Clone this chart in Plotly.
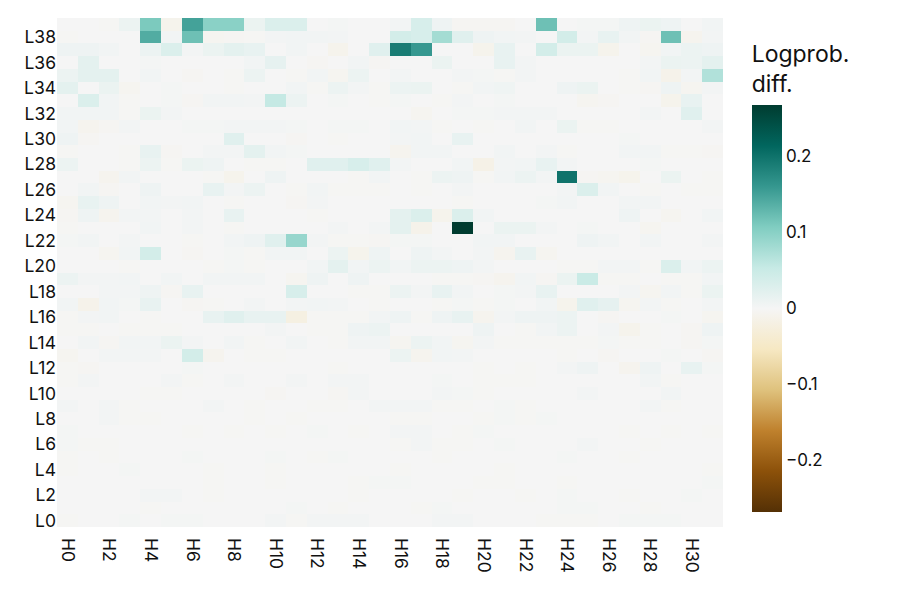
import plotly.graph_objects as go

heads = [f"H{i}" for i in range(32)]
layers = [f"L{i}" for i in range(40)]
x_tick_labels = [f"H{i}" for i in range(0, 32, 2)]
y_tick_labels = [f"L{i}" for i in range(0, 40, 2)]
cbar_tick_values = [-0.2, -0.1, 0, 0.1, 0.2]
cbar_tick_labels = ["\u22120.2", "\u22120.1", "0", "0.1", "0.2"]

L0 = [-0.002, 0, 0, 0.002, 0, 0.002, 0.002, 0, 0, 0, 0.003, -0.002, 0.003, 0.003, 0.003, 0, 0, 0, 0.003, 0.003, 0, 0, 0, -0.002, -0.002, -0.002, 0, 0.002, 0.002, 0.002, 0, 0]
L1 = [0, 0, 0, 0, -0.002, 0, 0, 0, 0, 0, 0, 0.002, 0, -0.002, 0, 0, 0, -0.002, 0.002, 0, 0, 0, 0, 0, 0.002, 0.002, 0, 0, -0.002, 0, 0, 0]
L2 = [0, 0, 0, 0, 0.003, 0.003, 0, -0.002, 0, 0, 0, 0, 0, 0, -0.002, 0, 0, 0, 0, -0.002, 0, 0, -0.002, 0, 0.002, 0, 0, -0.002, 0, 0, 0.002, 0]
L3 = [0, 0, 0, 0, 0, 0, 0, -0.002, 0, 0, -0.002, 0, 0, 0, -0.002, 0.002, 0.002, 0, 0, 0, -0.002, -0.002, 0, 0, -0.002, 0, 0, 0, 0, 0, 0, 0.002]
L4 = [-0.002, 0, 0, 0.002, 0, 0, 0, -0.002, 0, 0, -0.002, 0, 0, 0, 0, 0, -0.002, 0, 0, 0, 0, -0.002, 0, 0, 0, 0, 0, 0, 0, 0, 0, -0.002]
L5 = [-0.002, 0, -0.002, 0, 0, 0, 0.002, 0, 0, 0, 0.002, 0, -0.002, 0.002, 0, 0, 0, 0, -0.002, 0, 0, 0, 0, 0, 0.002, 0, 0, -0.002, 0, 0, 0, 0]
L6 = [0.002, -0.002, -0.002, 0, 0, 0, 0, 0, 0, 0, 0, 0, 0, 0, 0, 0, -0.002, 0.003, -0.002, -0.002, 0, 0.002, 0, 0, 0, 0.003, 0, 0, -0.002, 0, 0, 0]
L7 = [0.002, 0, 0, 0, 0, 0, -0.002, 0, -0.002, 0, -0.002, 0, 0.002, 0, -0.002, 0, 0.003, 0.003, 0, -0.002, 0.002, 0, 0, 0, 0, 0, 0, -0.002, 0, -0.002, 0, -0.002]
L8 = [0, 0, 0.003, -0.002, -0.002, 0, 0, 0, 0, -0.002, 0, -0.002, 0, 0, 0, 0, -0.002, -0.002, 0, 0, -0.002, 0.002, -0.002, 0.002, 0, 0, 0, 0, 0, 0, 0, 0]
L9 = [0.003, 0, 0.003, -0.002, 0, 0, 0, 0.003, 0, -0.002, 0, 0, -0.002, -0.002, 0, 0.003, 0.003, 0.003, -0.002, -0.002, 0, 0.002, -0.002, 0, 0, 0, 0, 0, 0.003, -0.002, 0, 0]
L10 = [0, 0, 0, 0, -0.002, -0.002, 0, 0, 0, 0, -0.003, 0, 0, -0.003, 0.004, 0, 0, 0, 0.003, 0.002, -0.002, 0, 0, 0, 0, 0.003, 0, 0, 0, 0.005, 0, 0]
L11 = [-0.002, 0.003, 0, 0, 0, 0.003, -0.002, 0, 0.003, 0, 0, 0.003, 0, 0.003, 0.003, 0, 0, 0, 0.002, 0, -0.002, -0.002, -0.002, 0, 0, 0, 0, 0, 0.005, -0.002, 0, 0]
L12 = [-0.002, -0.003, 0, 0, 0, 0, 0.002, 0, 0, 0, 0, 0, 0, -0.002, 0, 0, 0, 0, 0, 0, -0.002, 0, -0.002, 0, 0.003, 0.008, 0, -0.008, 0.008, 0, 0.015, 0.002]
L13 = [-0.005, 0, 0.003, 0.003, 0.003, 0, 0.04, -0.008, 0, -0.002, -0.002, 0, 0, 0, 0, 0, 0.01, -0.008, 0.005, 0.003, 0, 0, 0, 0, -0.002, 0, -0.003, 0, 0, 0.002, 0, -0.003]
L14 = [0, 0.005, -0.003, 0.005, 0.005, 0.012, 0.003, 0, 0.005, -0.002, 0, 0.005, 0, -0.002, 0.005, 0.005, -0.005, 0.01, 0.005, -0.005, 0.003, -0.002, -0.002, -0.002, -0.002, -0.002, 0.002, -0.002, -0.002, 0, -0.003, 0.002]
L15 = [-0.002, -0.002, 0, -0.002, -0.002, -0.002, 0, 0, 0, 0, 0.003, 0, -0.002, -0.002, 0.008, 0.01, 0, 0, 0, 0, 0.008, 0, -0.002, 0.005, 0.01, 0, 0.003, -0.01, -0.002, 0, -0.003, 0.008]
L16 = [-0.002, 0.003, 0.005, 0, -0.002, 0, 0, 0.015, 0.025, 0.015, 0.015, -0.02, -0.002, -0.002, -0.002, 0.005, 0.008, -0.002, 0.008, 0.015, -0.008, 0.003, 0.008, 0.008, 0.01, 0, -0.003, 0, 0, 0.002, 0, -0.005]
L17 = [0.005, -0.012, 0.005, 0.002, 0.015, 0, -0.003, -0.002, 0, 0.003, 0, 0.003, 0.005, 0.003, 0, -0.002, 0, 0, -0.002, 0.002, -0.002, 0.002, 0, 0.005, -0.01, 0.025, 0.018, -0.005, 0.003, -0.002, 0, 0.003]
L18 = [0, 0, 0.003, 0.003, 0.008, -0.003, 0.015, 0, 0, 0, 0, 0.035, 0, 0, -0.002, -0.002, 0.01, 0.003, 0.015, 0.005, 0, 0.002, 0.003, 0.015, 0, 0, 0, 0.003, -0.005, 0.005, -0.002, 0.012]
L19 = [0.01, 0.003, 0.003, 0.005, 0, 0.005, 0, 0.005, 0.005, 0.005, 0, -0.005, 0.008, 0, 0.008, 0, 0, 0, -0.002, -0.002, -0.003, -0.008, 0.005, -0.003, 0.012, 0.05, -0.002, -0.002, 0, -0.002, -0.002, 0.005]
L20 = [0, 0, 0, -0.002, 0, 0, 0, -0.002, 0.002, -0.002, 0, 0, 0.005, 0.02, 0.005, 0.01, 0.005, 0.01, 0.01, 0.008, 0.003, 0, 0, 0, -0.002, -0.002, 0.003, 0.003, -0.002, 0.03, 0.005, 0.01]
L21 = [0, 0, -0.005, 0.005, 0.04, 0, -0.003, 0, 0.002, -0.002, 0.005, 0.005, 0, 0.01, -0.01, 0.008, 0, 0.008, 0.003, 0, 0.003, -0.008, 0.015, -0.005, 0, 0, 0, 0, 0, 0, 0, 0]
L22 = [0.002, 0.005, 0, 0.003, 0, 0, -0.002, 0, 0.005, 0.008, 0.025, 0.09, 0.003, -0.002, -0.002, -0.003, 0.002, 0.002, 0, 0, 0.005, 0.005, 0, 0, 0, 0.008, 0.005, 0, 0.005, 0, 0, 0.003]
L23 = [-0.002, 0, 0, 0, 0.005, 0, 0.003, 0, -0.002, 0, 0, 0, 0, 0.003, 0, 0.003, 0.02, -0.012, 0, 0.27, 0, 0.012, 0.012, 0.003, 0, 0.002, 0, 0, -0.005, 0, 0, 0]
L24 = [-0.003, 0.008, -0.008, 0.003, 0.003, 0, 0.003, 0, 0.015, 0, 0, 0, -0.002, 0, 0, 0, 0.02, 0.03, -0.01, 0.03, 0.005, 0, 0, 0, 0, 0, 0, 0.008, 0, -0.005, 0, 0.005]
L25 = [-0.005, 0.015, 0.008, 0, 0.005, 0.003, 0.005, 0, -0.002, 0, 0, -0.003, 0.003, 0, 0, 0, 0, 0, 0, -0.002, 0, 0, 0, 0.002, 0.005, 0, 0, 0.005, 0.005, 0, 0, 0]
L26 = [0, 0.005, -0.003, 0, 0.008, 0, 0, 0.015, 0.003, 0.01, 0, -0.002, 0.005, -0.002, -0.002, -0.002, 0, -0.002, 0, 0.003, 0, 0, 0, 0, 0.003, 0.03, 0.005, 0, -0.002, 0, -0.002, -0.002]
L27 = [0, 0, -0.008, 0.005, 0, 0, 0, -0.002, -0.01, 0, 0.008, 0, 0, 0, -0.002, 0.005, 0, -0.002, 0.01, 0.008, -0.002, 0.005, 0.01, 0.003, 0.2, -0.003, -0.005, -0.01, 0, 0.012, 0, -0.002]
L28 = [0.01, 0, 0, -0.002, 0.01, -0.002, 0.012, 0.008, 0, -0.002, -0.002, 0, 0.025, 0.025, 0.035, 0.025, 0.003, 0, 0, 0.005, -0.015, 0.003, 0.005, 0.015, 0.003, 0, 0, 0, 0.002, 0, 0, 0]
L29 = [-0.002, 0, 0, -0.002, 0.015, -0.003, 0, 0.003, 0.003, 0.02, 0.005, 0.002, 0, 0, 0, 0, -0.008, 0.005, 0.005, 0, 0, 0.005, 0, 0.003, -0.002, 0, 0, 0.005, 0.005, -0.002, -0.002, -0.003]
L30 = [0.008, -0.003, 0, 0, 0, 0, 0, 0, 0.025, 0, 0, -0.003, 0, -0.002, 0, 0, 0.003, 0.005, 0, 0.015, 0, 0, 0, 0, 0, 0, 0, 0.002, 0, 0, 0, 0]
L31 = [0.005, -0.008, -0.003, 0.003, 0, 0, 0.002, 0.002, 0.003, 0.003, 0.003, 0.002, 0, 0.002, 0.002, 0, 0.005, 0.003, -0.002, 0, -0.002, 0, 0.005, 0, 0.012, -0.002, -0.002, 0, 0, 0, 0, 0.003]
L32 = [0.005, 0.005, 0.005, -0.002, 0.012, 0.003, 0, 0, 0, 0, 0, 0, 0, 0, 0, 0, 0, -0.005, 0, 0.002, 0.002, 0.003, 0.003, 0.003, 0, 0, 0, 0, 0.003, 0, 0.025, 0]
L33 = [0, 0.03, 0.005, -0.002, 0, 0.002, -0.003, 0.005, 0.005, 0.003, 0.055, 0.01, 0, 0.002, 0, -0.002, 0.002, 0, -0.002, 0.003, 0, 0.002, 0, 0, 0, -0.005, -0.003, 0, 0, -0.01, 0.015, 0]
L34 = [0.02, 0, 0.012, -0.005, 0, 0.002, 0, 0, -0.002, 0, 0, 0.005, -0.002, 0.01, 0.003, -0.002, 0.01, 0.012, 0, -0.002, 0.005, 0.007, 0, 0, 0.008, 0.012, 0, -0.002, -0.003, 0.008, -0.005, 0.003]
L35 = [0.01, 0.02, 0.02, 0, 0.005, 0, -0.003, 0, -0.002, 0.01, 0, -0.002, 0.005, -0.005, 0.01, 0, 0.003, 0, 0, 0.003, 0.002, -0.002, 0.003, 0, 0, 0, 0, -0.002, 0.005, -0.012, 0.003, 0.07]
L36 = [0, 0.02, 0, 0, 0.002, 0, 0, 0, 0, 0.005, 0.018, 0, -0.003, 0, 0.005, -0.003, 0, 0, 0.012, 0, 0, 0.015, 0.003, 0, 0, 0, 0, 0, 0.003, 0.012, 0.01, 0.02]
L37 = [0.008, 0.008, 0.005, 0, 0.01, 0.03, 0.003, 0.012, 0.02, 0.015, 0, 0.005, 0, -0.01, 0, 0.025, 0.19, 0.16, 0, 0, -0.01, 0.015, 0, 0.04, 0.012, 0.012, -0.01, 0, -0.005, 0.005, 0.01, 0.008]
L38 = [-0.002, 0, 0, 0, 0.14, 0.005, 0.12, -0.005, -0.003, -0.002, 0.003, 0.005, 0.005, 0.003, 0, 0, 0.04, 0.035, 0.08, 0.025, 0.008, 0.005, 0.003, 0, 0.04, 0.003, 0.015, 0.005, -0.003, 0.12, -0.008, 0.003]
L39 = [0, 0, -0.002, 0.01, 0.11, -0.01, 0.15, 0.10, 0.10, 0.012, 0.03, 0.03, 0, 0.002, 0, 0, 0.003, 0.035, 0.008, -0.003, -0.003, -0.003, 0, 0.12, 0, 0.002, 0.002, 0.008, 0.012, 0.008, 0, 0.005]

z = [L0, L1, L2, L3, L4, L5, L6, L7, L8, L9, L10, L11, L12, L13, L14, L15, L16, L17, L18, L19,
     L20, L21, L22, L23, L24, L25, L26, L27, L28, L29, L30, L31, L32, L33, L34, L35, L36, L37, L38, L39]

FONT = "Inter, Open Sans, sans-serif"

fig = go.Figure(go.Heatmap(
    z=z, x=heads, y=layers,
    colorscale="BrBG", zmin=-0.268, zmax=0.268, zmid=0,
    colorbar=dict(
        title=dict(text="Logprob.<br>diff.", side="top", font=dict(size=23, family=FONT, color="#111")),
        thickness=30, len=0.924, lenmode="fraction", y=0.03, yanchor="bottom",
        x=1.043, xanchor="left", xpad=0, ypad=0, outlinewidth=0,
        tickvals=cbar_tick_values, ticktext=cbar_tick_labels, ticks="",
        tickfont=dict(size=17, family=FONT, color="#111"),
    ),
))

fig.update_layout(
    width=897, height=598,
    margin=dict(l=49, r=182, t=10, b=79, autoexpand=False),
    paper_bgcolor="white", plot_bgcolor="white",
    font=dict(family=FONT, size=17, color="#111"),
)
fig.update_xaxes(tickvals=x_tick_labels, ticktext=x_tick_labels, tickangle=90,
                 showgrid=False, zeroline=False, ticks="", automargin=False,
                 ticklabelstandoff=10, tickfont=dict(size=17.5))
fig.update_yaxes(tickvals=y_tick_labels, ticktext=y_tick_labels, automargin=False,
                 showgrid=False, zeroline=False, ticks="", tickfont=dict(size=17.5))

fig.write_html("out.html")
